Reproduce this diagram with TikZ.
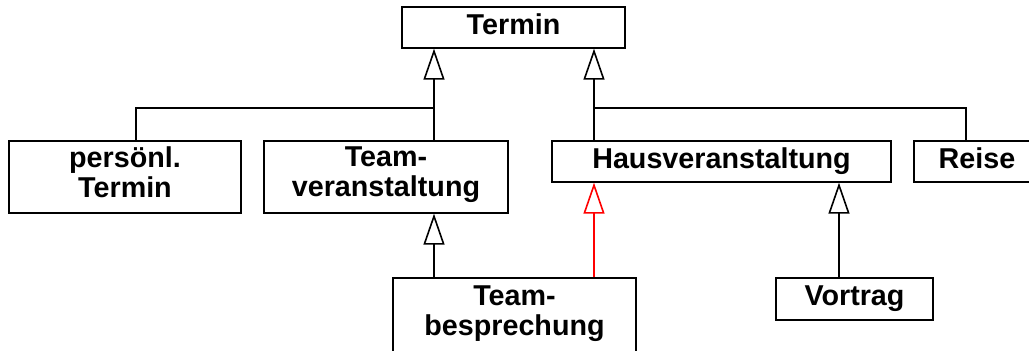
\documentclass[tikz,border=0pt]{standalone}
\usepackage{fontspec}
\setmainfont{Liberation Sans}
\usetikzlibrary{arrows.meta}
\begin{document}
\begin{tikzpicture}[x=1pt,y=-1pt,
  cls/.style={draw, line width=1.4pt, inner sep=0pt, align=center,
    font=\fontsize{28.7}{30}\selectfont\bfseries},
  one/.style={text height=20.7pt, text depth=7.2pt},
  two/.style={text depth=10pt},
  plain/.style={line width=1.6pt},
  inh/.style={line width=1.6pt, -{Triangle[open, length=31pt, width=21pt, line width=1.6pt]}},
  redinh/.style={inh, draw=red, line width=2pt}]
\useasboundingbox (0,0) rectangle (1029,351);
\fill[white] (0,0) rectangle (1029,351);
\clip (0,0) rectangle (1029,351);

\node[cls, one, minimum width=223pt, minimum height=41pt] (termin) at (513.5,27.5) {Termin};
\node[cls, two, minimum width=232pt, minimum height=72pt] (pt) at (125,177) {persönl.\\Termin};
\node[cls, two, minimum width=244pt, minimum height=72pt] (tv) at (386,177) {Team-\\veranstaltung};
\node[cls, one, minimum width=339pt, minimum height=41pt] (hv) at (721.5,161.5) {Hausveranstaltung};
\node[cls, one, minimum width=126pt, minimum height=41pt] (reise) at (977,161.5) {Reise};
\node[cls, two, minimum width=243pt, minimum height=76pt] (tb) at (514.5,316) {Team-\\besprechung};
\node[cls, one, minimum width=157pt, minimum height=42pt] (vt) at (854.5,299) {Vortrag};

\coordinate (j1) at (434,108);
\coordinate (j2) at (594,108);
\coordinate (pj) at (136,108);
\coordinate (rj) at (966,108);
\coordinate (vx) at (839,0);

\draw[plain] (pt.north -| pj) -- (pj) -- (j1);
\draw[inh] (tv.north -| j1) -- (termin.south -| j1);
\draw[plain] (reise.north -| rj) -- (rj) -- (j2);
\draw[inh] (hv.north -| j2) -- (termin.south -| j2);
\draw[inh] (tb.north -| j1) -- (tv.south -| j1);
\draw[redinh] (tb.north -| j2) -- (hv.south -| j2);
\draw[inh] (vt.north -| vx) -- (hv.south -| vx);
\end{tikzpicture}
\end{document}
